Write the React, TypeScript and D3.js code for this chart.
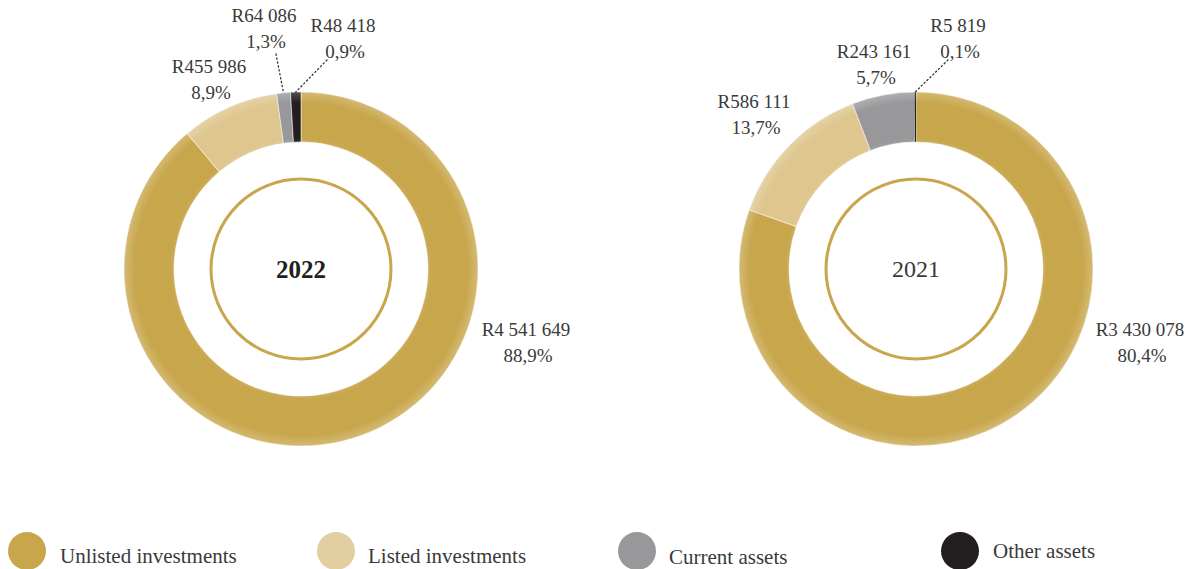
import * as d3 from 'd3';
import React, { useEffect } from 'react';

// chart values
const categories = ['Unlisted investments', 'Listed investments', 'Current assets', 'Other assets'];
const colors = ['#C8A64C', '#DEC68E', '#98989A', '#231F20'];
const years = ['2022', '2021'];
const values2022 = [4541649, 455986, 64086, 48418];
const values2021 = [3430078, 586111, 243161, 5819];

// layout: label anchor (line 1 centre / baseline) relative to each donut centre
const labelOffsets2022: [number, number][] = [[225, 67], [-92, -196], [-37, -247], [42, -237]];
const labelOffsets2021: [number, number][] = [[224, 67], [-162, -161], [-42, -211], [42, -237]];
// leader lines: start point relative to centre, or null
const leaders2022 = [null, null, [-25, -215], [26, -209]];
const leaders2021 = [null, null, null, [32, -209]];

const W = 1192;
const H = 569;
const outerR = 177;
const innerR = 127;
const ringR = 90;
const centres: [number, number][] = [[301, 269], [916, 269]];

const locale = d3.formatLocale({ decimal: ',', thousands: ' ', grouping: [3], currency: ['R', ''] });
const money = locale.format('$,.0f');
const pct = locale.format('.1f');

const FONT = '"Liberation Serif", "DejaVu Serif", serif';
const TEXT = '#3a3a3a';

const Donut = ({ idx, values, offsets, leaders }: any) => {
    const [cx, cy] = centres[idx];
    const total = d3.sum(values);
    const pie = d3.pie<number>().sort(null).value((d) => d);
    const arc = d3.arc<d3.PieArcDatum<number>>().innerRadius(innerR).outerRadius(outerR);
    const arcs = pie(values);
    const gradId = 'edge' + idx;
    return (
        <g transform={`translate(${cx},${cy})`}>
            <defs>
                <radialGradient id={gradId} gradientUnits="userSpaceOnUse" cx={0} cy={0} r={outerR}>
                    <stop offset={innerR / outerR} stopColor="#fff" stopOpacity={0.08} />
                    <stop offset={(innerR + 4) / outerR} stopColor="#fff" stopOpacity={0} />
                    <stop offset={0.94} stopColor="#fff" stopOpacity={0} />
                    <stop offset={1} stopColor="#fff" stopOpacity={0.22} />
                </radialGradient>
            </defs>
            {arcs.map((a, i) => (
                <path
                    key={i}
                    d={arc(a) || ''}
                    fill={colors[i]}
                    stroke={a.endAngle - a.startAngle > 0.02 ? '#fff' : 'none'}
                    strokeWidth={0.5}
                />
            ))}
            <circle r={(innerR + outerR) / 2} fill="none" stroke={`url(#${gradId})`} strokeWidth={outerR - innerR} />
            <circle r={ringR} fill="none" stroke="#C8A64C" strokeWidth={3} />
            <text
                x={0}
                y={0}
                dy="0.35em"
                textAnchor="middle"
                fontFamily={FONT}
                fontSize={idx === 0 ? 25 : 24}
                fontWeight={idx === 0 ? 'bold' : 'normal'}
                fill={idx === 0 ? '#231F20' : TEXT}
            >
                {years[idx]}
            </text>
            {arcs.map((a, i) => {
                const lead = leaders[i];
                if (!lead) return null;
                const mid = (a.startAngle + a.endAngle) / 2;
                const ex = outerR * Math.sin(mid);
                const ey = -outerR * Math.cos(mid);
                return (
                    <line
                        key={'l' + i}
                        x1={lead[0]}
                        y1={lead[1]}
                        x2={ex}
                        y2={ey}
                        stroke="#333"
                        strokeWidth={1.3}
                        strokeDasharray="1.3 2.7"
                        strokeLinecap="round"
                    />
                );
            })}
            {arcs.map((a, i) => {
                const [dx, dy] = offsets[i];
                return (
                    <text key={'t' + i} textAnchor="middle" fontFamily={FONT} fontSize={19} fill={TEXT}>
                        <tspan x={dx} y={dy}>{money(values[i])}</tspan>
                        <tspan x={dx + 2} y={dy + 26}>{pct((values[i] / total) * 100) + '%'}</tspan>
                    </text>
                );
            })}
        </g>
    );
};

// legend layout
const legendX = [27, 336, 637, 960];
const legendTextX = [60, 368, 669, 993];
const legendTextY = [563, 563, 564, 558];

export default function App() {
    useEffect(() => {
        document.body.style.margin = '0';
    }, []);
    return (
        <svg width={W} height={H} style={{ display: 'block', background: '#fff' }}>
            <Donut idx={0} values={values2022} offsets={labelOffsets2022} leaders={leaders2022} />
            <Donut idx={1} values={values2021} offsets={labelOffsets2021} leaders={leaders2021} />
            {categories.map((c, i) => (
                <g key={c}>
                    <circle cx={legendX[i]} cy={551} r={19} fill={colors[i]} opacity={i === 1 ? 0.85 : 1} />
                    <text x={legendTextX[i]} y={legendTextY[i]} fontFamily={FONT} fontSize={21} fill={TEXT}>
                        {c}
                    </text>
                </g>
            ))}
        </svg>
    );
}
